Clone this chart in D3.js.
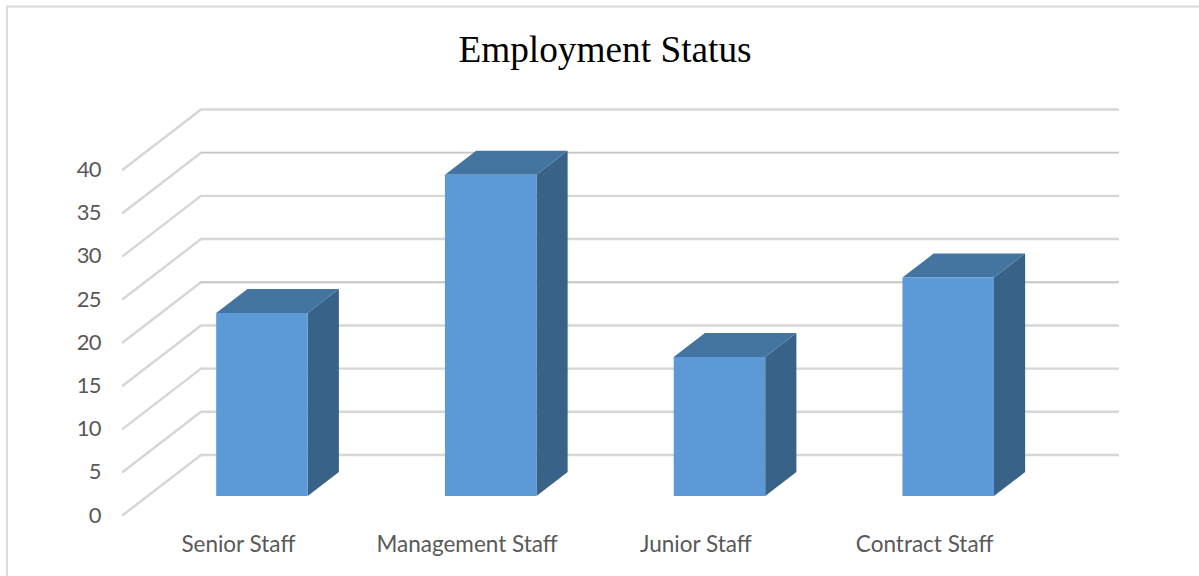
<!DOCTYPE html>
<html>
<head>
<meta charset="utf-8">
<script src="https://cdn.jsdelivr.net/npm/d3@7/dist/d3.min.js"></script>
<style>
  html, body { margin: 0; padding: 0; background: #fff; }
  svg { display: block; }
</style>
</head>
<body>
<svg id="chart" width="1199" height="576"></svg>
<script>
const titleText = "Employment Status";
const categories = ["Senior Staff", "Management Staff", "Junior Staff", "Contract Staff"];
const staffCounts = [21.2, 37.2, 16.1, 25.3];
const tickValues = [0, 5, 10, 15, 20, 25, 30, 35, 40];
const sharperTicks = [20, 35];

const svg = d3.select("#chart");

// Frame of the chart area: only the top and left edges fall inside the page.
svg.append("path")
  .attr("d", "M1199,6.5H7V576")
  .attr("fill", "none")
  .attr("stroke", "#d9d9d9")
  .attr("stroke-width", 1.8);

svg.append("text")
  .attr("x", 605)
  .attr("y", 61.5)
  .attr("text-anchor", "middle")
  .attr("font-family", "'Liberation Serif', serif")
  .attr("font-size", 37.3)
  .attr("fill", "#000")
  .text(titleText);

// Oblique projection: x/y on the front plane, plus a depth fraction.
const front = { left: 123, bottom: 515, top: 169.5 };
const depth = { dx: 78, dy: -60 };
const gridWidth = 918;
const barSpan = 915;

const y = d3.scaleLinear().domain([0, 40]).range([front.bottom, front.top]);
const x = d3.scaleBand().domain(categories).range([0, barSpan])
  .paddingInner(0.6).paddingOuter(0.3);
const z = d3.scaleLinear().domain([0, 1]).range([0, 1]);

const project = (px, value, d) => [
  front.left + px + depth.dx * z(d),
  y(value) + depth.dy * z(d)
];
const poly = pts => "M" + pts.map(p => p.join(",")).join("L") + "Z";
const line = d3.line();

// Side-wall gridlines run from the front edge back to the wall.
svg.append("g").selectAll("path")
  .data(tickValues)
  .join("path")
  .attr("d", v => line([project(0, v, 0), project(0, v, 1)]))
  .attr("fill", "none")
  .attr("stroke", "#d6d6d6")
  .attr("stroke-width", 2.4)
  .attr("stroke-linecap", "round");

// Back-wall gridlines.
svg.append("g").selectAll("path")
  .data(tickValues)
  .join("path")
  .attr("d", v => line([project(0, v, 1), project(gridWidth, v, 1)]))
  .attr("fill", "none")
  .attr("stroke", v => sharperTicks.includes(v) ? "#c4c4c4" : "#d6d6d6")
  .attr("stroke-width", v => sharperTicks.includes(v) ? 1.8 : 2.4);

// Value labels down the left side.
const yAxis = svg.append("g")
  .attr("transform", "translate(100.5,0)")
  .call(d3.axisLeft(y).tickValues(tickValues).tickSize(0).tickPadding(0));
yAxis.select(".domain").remove();
yAxis.selectAll("text")
  .attr("font-family", "Lato, 'Open Sans', sans-serif")
  .attr("font-size", 22)
  .attr("letter-spacing", "-0.9px")
  .attr("fill", "#595959");

// Each bar is three faces: side, top and front.
const barNear = 0.315, barFar = 0.715;
const bars = svg.append("g").selectAll("g")
  .data(categories.map((c, i) => ({ category: c, value: staffCounts[i] })))
  .join("g");

bars.append("path")
  .attr("d", d => {
    const r = x(d.category) + x.bandwidth();
    return poly([project(r, 0, barNear), project(r, 0, barFar), project(r, d.value, barFar), project(r, d.value, barNear)]);
  })
  .attr("fill", "#386287");

bars.append("path")
  .attr("d", d => {
    const l = x(d.category), r = l + x.bandwidth();
    return poly([project(l, d.value, barNear), project(l, d.value, barFar), project(r, d.value, barFar), project(r, d.value, barNear)]);
  })
  .attr("fill", "#4475a1");

bars.append("path")
  .attr("d", d => {
    const l = x(d.category), r = l + x.bandwidth();
    return poly([project(l, 0, barNear), project(l, d.value, barNear), project(r, d.value, barNear), project(r, 0, barNear)]);
  })
  .attr("fill", "#5b9ad7");

// Category labels under the floor.
const xAxis = svg.append("g")
  .attr("transform", `translate(${front.left + 1},536)`)
  .call(d3.axisBottom(x).tickSize(0).tickPadding(0));
xAxis.select(".domain").remove();
xAxis.selectAll("text")
  .attr("font-family", "Lato, 'Open Sans', sans-serif")
  .attr("font-size", 22.5)
  .attr("fill", "#595959");
</script>
</body>
</html>
